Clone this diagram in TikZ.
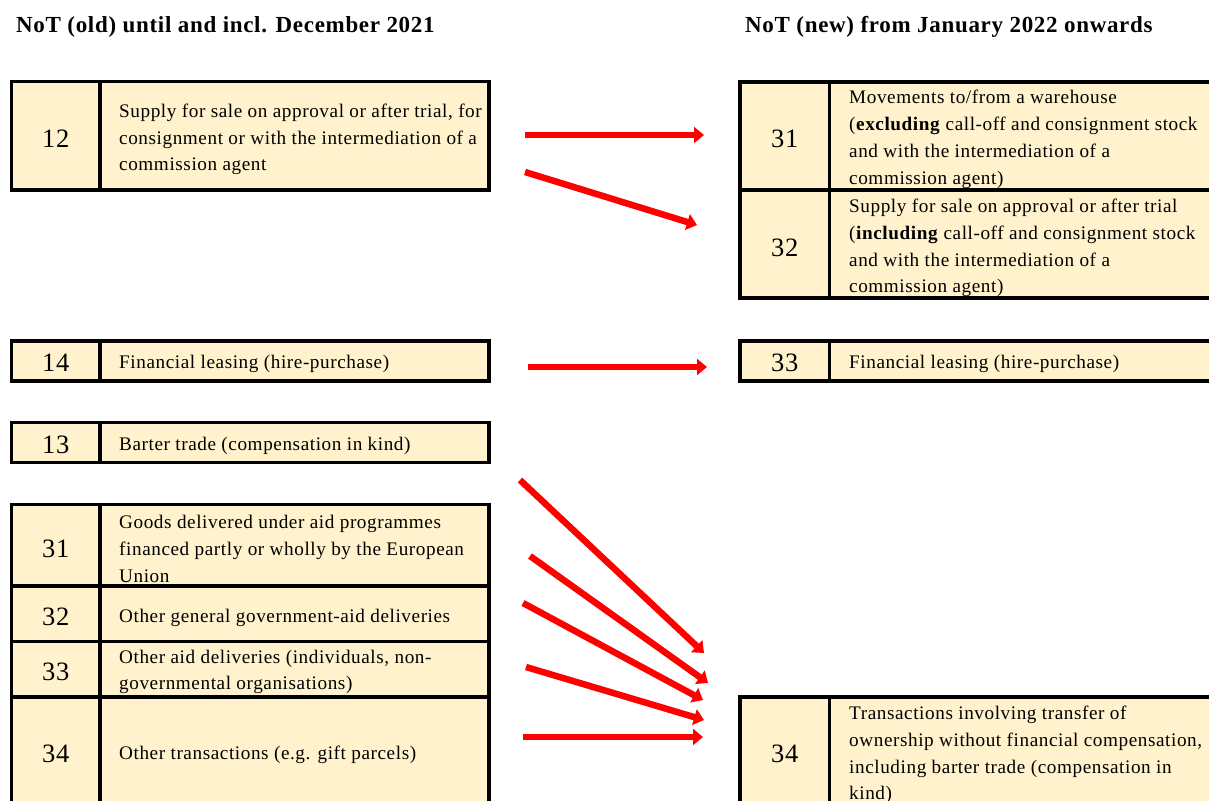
\documentclass[tikz,border=0pt]{standalone}
\usepackage{fontspec}
\setmainfont{Liberation Serif}[LetterSpace=3]
\usetikzlibrary{arrows.meta}
\definecolor{cream}{HTML}{FFF2CC}
\definecolor{arrred}{HTML}{FF0000}
\begin{document}
\begin{tikzpicture}[x=1pt,y=-1pt,
  cell/.style={draw=black,line width=3.5pt,fill=cream},
  sep/.style={draw=black,line width=3.5pt},
  num/.style={font=\fontsize{26.5}{30}\selectfont,inner sep=0pt},
  txt/.style={font=\fontsize{19.2}{26.8}\selectfont,align=left,anchor=west,inner sep=0pt},
  hdr/.style={font=\bfseries\fontsize{23}{26}\selectfont,anchor=west,inner sep=0pt},
  flow/.style={draw=arrred,line width=6.5pt,-{Triangle[length=10pt,width=16pt]}}]
\useasboundingbox (0,0) rectangle (1209,800);

% headers
\node[hdr] (hold) at (16,27) {NoT (old) until and incl. December 2021};
\node[hdr] (hnew) at (745,27) {NoT (new) from January 2022 onwards};

% ---------- left side ----------
\path[cell] (11.5,81.5) rectangle (489,190);
\path[sep] (100,81.5) -- (100,190);
\node[num] (o12) at (55.75,139) {12};
\node[txt] (o12t) at (119,139.5) {Supply for sale on approval or after trial, for\\consignment or with the intermediation of a\\commission agent};

\path[cell] (11.5,341) rectangle (489,381);
\path[sep] (100,341) -- (100,381);
\node[num] (o14) at (55.75,363) {14};
\node[txt] (o14t) at (119,364) {Financial leasing (hire-purchase)};

\path[cell] (11.5,422.5) rectangle (489,462.5);
\path[sep] (100,422.5) -- (100,462.5);
\node[num] (o13) at (55.75,445) {13};
\node[txt] (o13t) at (119,446) {Barter trade (compensation in kind)};

\path[cell] (11.5,504.5) rectangle (489,830);
\path[sep] (100,504.5) -- (100,830);
\path[sep] (11.5,586) -- (489,586);
\path[sep] (11.5,641.5) -- (489,641.5);
\path[sep] (11.5,697) -- (489,697);
\node[num] (o31) at (55.75,549) {31};
\node[txt] (o31t) at (119,549) {Goods delivered under aid programmes\\financed partly or wholly by the European\\Union};
\node[num] (o32) at (55.75,617) {32};
\node[txt] (o32t) at (119,618) {Other general government-aid deliveries};
\node[num] (o33) at (55.75,672) {33};
\node[txt] (o33t) at (119,672) {Other aid deliveries (individuals, non-\\governmental organisations)};
\node[num] (o34) at (55.75,754) {34};
\node[txt] (o34t) at (119,755) {Other transactions (e.g. gift parcels)};

% ---------- right side ----------
\path[cell] (740,82) rectangle (1230,298);
\path[sep] (829.5,82) -- (829.5,298);
\path[sep] (740,190) -- (1230,190);
\node[num] (n31) at (784.75,139) {31};
\node[txt] (n31t) at (849,139.5) {Movements to/from a warehouse\\(\textbf{excluding} call-off and consignment stock\\and with the intermediation of a\\commission agent)};
\node[num] (n32) at (784.75,248) {32};
\node[txt] (n32t) at (849,248) {Supply for sale on approval or after trial\\(\textbf{including} call-off and consignment stock\\and with the intermediation of a\\commission agent)};

\path[cell] (740,341) rectangle (1230,381);
\path[sep] (829.5,341) -- (829.5,381);
\node[num] (n33) at (784.75,363) {33};
\node[txt] (n33t) at (849,364) {Financial leasing (hire-purchase)};

\path[cell] (740,697) rectangle (1230,830);
\path[sep] (829.5,697) -- (829.5,830);
\node[num] (n34) at (784.75,754) {34};
\node[txt] (n34t) at (849,755) {Transactions involving transfer of\\ownership without financial compensation,\\including barter trade (compensation in\\kind)};

% ---------- arrows ----------
\coordinate (a1s) at (525,135); \coordinate (a1e) at (704,135);
\coordinate (a2s) at (525,172); \coordinate (a2e) at (697,225);
\coordinate (a3s) at (528,367); \coordinate (a3e) at (707,367);
\coordinate (b1s) at (520,480); \coordinate (b1e) at (704,653);
\coordinate (b2s) at (530,556); \coordinate (b2e) at (708,683);
\coordinate (b3s) at (523,603); \coordinate (b3e) at (703,700);
\coordinate (b4s) at (526,667); \coordinate (b4e) at (704,720);
\coordinate (b5s) at (523,737); \coordinate (b5e) at (703,737);
\draw[flow] (a1s) -- (a1e);
\draw[flow] (a2s) -- (a2e);
\draw[flow] (a3s) -- (a3e);
\draw[flow] (b1s) -- (b1e);
\draw[flow] (b2s) -- (b2e);
\draw[flow] (b3s) -- (b3e);
\draw[flow] (b4s) -- (b4e);
\draw[flow] (b5s) -- (b5e);
\end{tikzpicture}
\end{document}
